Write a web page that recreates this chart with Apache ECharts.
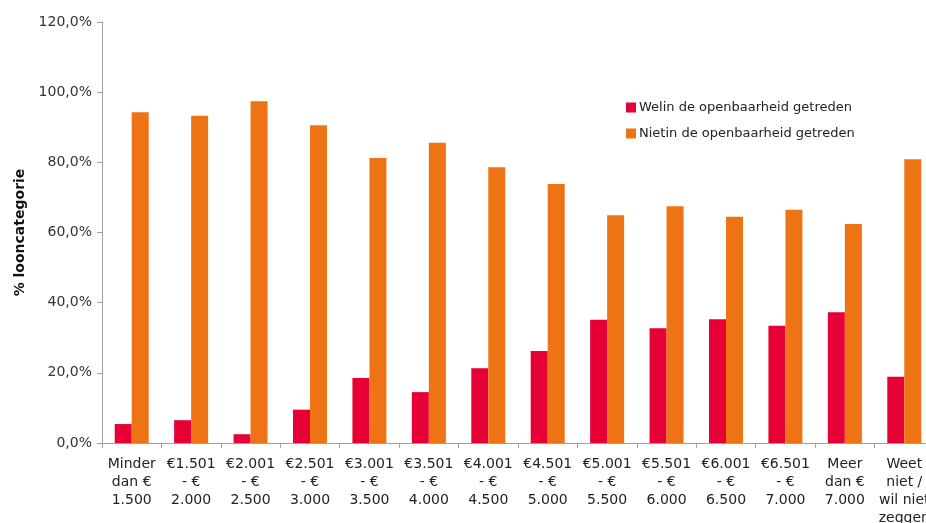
<!DOCTYPE html>
<html>
<head>
<meta charset="utf-8">
<script src="https://cdn.jsdelivr.net/npm/echarts@6/dist/echarts.min.js"></script>
<style>
html,body{margin:0;padding:0;background:#fff;}
#chart{width:926px;height:523px;}
</style>
</head>
<body>
<div id="chart"></div>
<script>
const categories = [
  "Minder\ndan €\n1.500",
  "€1.501\n- €\n2.000",
  "€2.001\n- €\n2.500",
  "€2.501\n- €\n3.000",
  "€3.001\n- €\n3.500",
  "€3.501\n- €\n4.000",
  "€4.001\n- €\n4.500",
  "€4.501\n- €\n5.000",
  "€5.001\n- €\n5.500",
  "€5.501\n- €\n6.000",
  "€6.001\n- €\n6.500",
  "€6.501\n- €\n7.000",
  "Meer\ndan €\n7.000",
  "Weet\nniet /\nwil niet\nzeggen"
];
const welValues = [5.4, 6.5, 2.5, 9.5, 18.5, 14.5, 21.3, 26.2, 35.1, 32.7, 35.3, 33.4, 37.3, 18.9];
const nietValues = [94.3, 93.3, 97.4, 90.6, 81.2, 85.6, 78.6, 73.8, 64.9, 67.5, 64.5, 66.5, 62.4, 80.9];
const seriesNames = ["Welin de openbaarheid getreden", "Nietin de openbaarheid getreden"];
const yTicks = [0, 20, 40, 60, 80, 100, 120];
const yAxisTitle = "% looncategorie";

const FONT = "DejaVu Sans";
const chart = echarts.init(document.getElementById('chart'), null, {renderer: 'canvas'});
chart.setOption({
  animation: false,
  backgroundColor: '#ffffff',
  textStyle: {fontFamily: FONT},
  grid: {left: 102, top: 22, bottom: 80, width: 832, containLabel: false, outerBoundsMode: 'none'},
  legend: {
    orient: 'vertical',
    left: 621,
    top: 96,
    icon: 'rect',
    itemWidth: 10,
    itemHeight: 10,
    itemGap: 13,
    textStyle: {fontFamily: FONT, fontSize: 13, color: '#222', padding: [0, 0, 0, -2]},
    data: seriesNames
  },
  xAxis: {
    type: 'category',
    data: categories,
    axisLine: {lineStyle: {color: '#a0a0a0', width: 1}},
    axisTick: {show: true, length: 5, lineStyle: {color: '#a0a0a0'}},
    axisLabel: {interval: 0, fontFamily: FONT, fontSize: 14, color: '#222', lineHeight: 18, margin: 12, align: 'center'},
    splitLine: {show: false}
  },
  yAxis: {
    type: 'value',
    min: yTicks[0],
    max: yTicks[yTicks.length - 1],
    interval: 20,
    name: yAxisTitle,
    nameLocation: 'middle',
    nameRotate: 90,
    nameGap: 75,
    nameTextStyle: {fontFamily: FONT, fontSize: 14, fontWeight: 'bold', color: '#111'},
    axisLine: {show: true, lineStyle: {color: '#a0a0a0', width: 1}},
    axisTick: {show: true, length: 5, lineStyle: {color: '#a0a0a0'}},
    axisLabel: {fontFamily: FONT, fontSize: 14, color: '#333', margin: 10,
      formatter: v => v.toFixed(1).replace('.', ',') + '%'},
    splitLine: {show: false}
  },
  series: [
    {name: seriesNames[0], type: 'bar', data: welValues, barWidth: 17, barGap: '0%',
     itemStyle: {color: '#E60036'}},
    {name: seriesNames[1], type: 'bar', data: nietValues, barWidth: 17, barGap: '0%',
     itemStyle: {color: '#EE7314'}}
  ]
});
</script>
</body>
</html>
